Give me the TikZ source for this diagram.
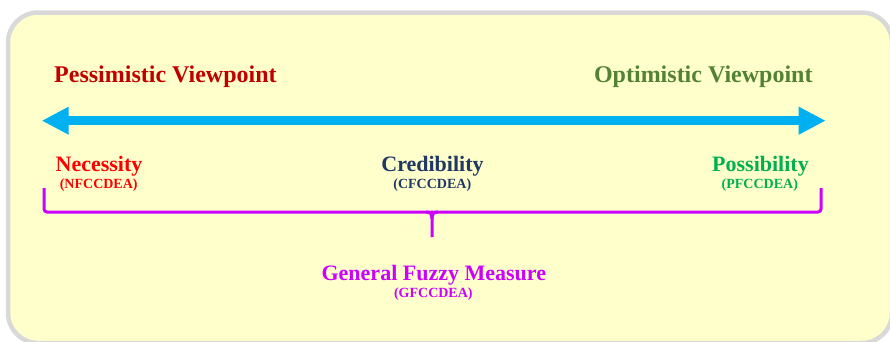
\documentclass[tikz,border=0pt]{standalone}
\usepackage{fontspec}
\setmainfont{Liberation Serif}
\usetikzlibrary{arrows.meta,calc}
\definecolor{panelfill}{HTML}{FFFFCC}
\definecolor{panelline}{HTML}{D9D9D9}
\definecolor{axisblue}{HTML}{00B0F0}
\definecolor{pessred}{HTML}{C00000}
\definecolor{optgreen}{HTML}{548235}
\definecolor{necred}{HTML}{FF0000}
\definecolor{creddark}{HTML}{1F3864}
\definecolor{posgreen}{HTML}{00B050}
\definecolor{fuzzypurple}{HTML}{CC00FF}
\tikzset{
  heading/.style={font=\bfseries\fontsize{24}{28}\selectfont, inner sep=0pt, anchor=base},
  measure/.style={font=\bfseries\fontsize{22}{26}\selectfont, inner sep=0pt, anchor=base},
  acro/.style={font=\bfseries\fontsize{14}{16}\selectfont, inner sep=0pt, anchor=base},
  axis/.style={draw=axisblue, line width=9pt,
    {Triangle[length=27pt,width=26pt]}-{Triangle[length=27pt,width=26pt]}},
  brc/.style={draw=fuzzypurple, line width=3pt},
}
\begin{document}
\begin{tikzpicture}[x=1pt,y=-1pt]
  \useasboundingbox (0,0) rectangle (890,341);
  % panel, running past the right and lower edges
  \begin{scope}
    \clip (0,0) rectangle (890,341);
    \draw[panelline, fill=panelfill, line width=4.5pt, rounded corners=30pt]
      (8,12.5) rectangle (892,343);
  \end{scope}

  % viewpoint headings
  \node[heading, text=pessred, anchor=base west] (pess) at (54,82.7) {Pessimistic Viewpoint};
  \node[heading, text=optgreen, anchor=base east] (opt) at (812.7,82.7) {Optimistic Viewpoint};

  % two-way axis
  \coordinate (axl) at (41.7,120.7);
  \coordinate (axr) at (825.7,120.7);
  \draw[axis] (axl) -- (axr);

  % measures along the axis
  \node[measure, text=necred] (nec) at (99,171) {Necessity};
  \node[acro, text=necred] (necA) at (98.7,188) {(NFCCDEA)};
  \node[measure, text=creddark] (cred) at (432.5,171.5) {Credibility};
  \node[acro, text=creddark] (credA) at (432.3,188) {(CFCCDEA)};
  \node[measure, text=posgreen] (pos) at (760.5,171) {Possibility};
  \node[acro, text=posgreen] (posA) at (759.8,188) {(PFCCDEA)};

  % grouping bracket
  \coordinate (bl) at (44,188);
  \coordinate (br) at (821,188);
  \coordinate (bm) at (432,212);
  \coordinate (bt) at (432,237);
  \draw[brc, rounded corners=3pt] (bl) |- (br |- bm) -- (br);
  \draw[brc] ($(bm)+(-6,0)$) .. controls ($(bm)+(-1.5,0)$) and ($(bm)+(0,2)$) .. ($(bm)+(0,7)$) -- (bt);
  \draw[brc] ($(bm)+(6,0)$) .. controls ($(bm)+(1.5,0)$) and ($(bm)+(0,2)$) .. ($(bm)+(0,7)$);

  % general measure
  \node[measure, text=fuzzypurple] (gen) at (433.8,280.5) {General Fuzzy Measure};
  \node[acro, text=fuzzypurple] (genA) at (433.3,297.7) {(GFCCDEA)};
\end{tikzpicture}
\end{document}
